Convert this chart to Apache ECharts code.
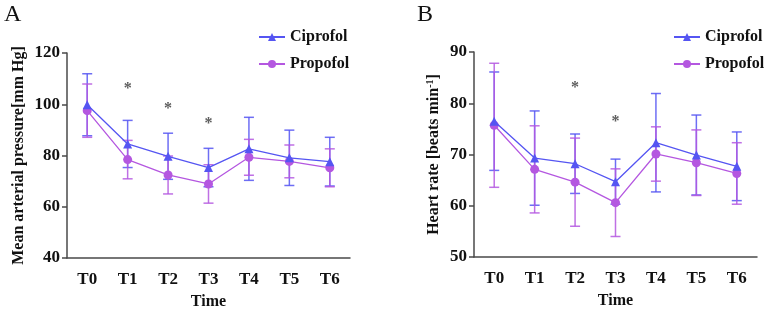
<!DOCTYPE html>
<html>
<head>
<meta charset="utf-8">
<script src="https://cdn.jsdelivr.net/npm/echarts@6/dist/echarts.min.js"></script>
<style>
  html, body { margin: 0; padding: 0; background: #fff; }
  #chart { width: 767px; height: 310px; }
</style>
</head>
<body>
<div id="chart"></div>
<script>
// time points
const times = ['T0', 'T1', 'T2', 'T3', 'T4', 'T5', 'T6'];

// A: mean arterial pressure (mean, sd)
const mapCipMean = [99.8, 84.5, 79.7, 75.3, 82.6, 79.1, 77.6];
const mapCipSd = [12.1, 9.2, 9.0, 7.5, 12.3, 10.8, 9.5];
const mapProMean = [97.5, 78.4, 72.4, 68.9, 79.3, 77.7, 75.2];
const mapProSd = [10.4, 7.5, 7.4, 7.5, 7.0, 6.4, 7.4];
const mapStars = [null, 107.2, 99.2, 93.6, null, null, null];

// B: heart rate (mean, sd)
const hrCipMean = [76.5, 69.3, 68.2, 64.7, 72.3, 69.9, 67.7];
const hrCipSd = [9.6, 9.2, 5.8, 4.4, 9.6, 7.8, 6.7];
const hrProMean = [75.7, 67.1, 64.6, 60.6, 70.1, 68.4, 66.3];
const hrProSd = [12.1, 8.5, 8.6, 6.6, 5.3, 6.4, 6.0];
const hrStars = [null, null, 83.6, 76.9, null, null, null];

const FONT = '"Liberation Serif", "Times New Roman", serif';
const CIP = '#5555f2';
const PRO = '#b457e0';
const AXIS = '#4a4a4a';

function errData(mean, sd) {
  return mean.map((m, i) => [i, +(m - sd[i]).toFixed(2), +(m + sd[i]).toFixed(2)]);
}

function errorBar(color) {
  return function (params, api) {
    const x = api.value(0);
    const lo = api.coord([x, api.value(1)]);
    const hi = api.coord([x, api.value(2)]);
    const w = 5;
    const st = { stroke: color, lineWidth: 1.5, opacity: 0.85 };
    return {
      type: 'group',
      children: [
        { type: 'line', shape: { x1: hi[0], y1: hi[1], x2: lo[0], y2: lo[1] }, style: st },
        { type: 'line', shape: { x1: hi[0] - w, y1: hi[1], x2: hi[0] + w, y2: hi[1] }, style: st },
        { type: 'line', shape: { x1: lo[0] - w, y1: lo[1], x2: lo[0] + w, y2: lo[1] }, style: st }
      ]
    };
  };
}

function starData(stars) {
  return stars.map((v, i) => (v == null ? null : [i, v])).filter(Boolean);
}

function xAxis(gridIndex) {
  return {
    type: 'category',
    gridIndex: gridIndex,
    data: times,
    name: 'Time',
    nameLocation: 'middle',
    nameGap: 36,
    nameTextStyle: { fontFamily: FONT, fontWeight: 'bold', fontSize: 16, color: '#111' },
    axisLine: { lineStyle: { color: AXIS, width: 1.5 } },
    axisTick: { alignWithLabel: true, length: 5, lineStyle: { color: AXIS, width: 1.5 } },
    axisLabel: { margin: 13, fontFamily: FONT, fontWeight: 'bold', fontSize: 17, color: '#111' }
  };
}

function yAxis(gridIndex, min, max, interval, name, gap) {
  return {
    type: 'value',
    gridIndex: gridIndex,
    min: min,
    max: max,
    interval: interval,
    name: name,
    nameLocation: 'middle',
    nameGap: gap,
    nameTextStyle: {
      fontFamily: FONT, fontWeight: 'bold', fontSize: 16, color: '#111',
      rich: { sup: { fontFamily: FONT, fontWeight: 'bold', fontSize: 10, color: '#111', verticalAlign: 'top', padding: [0, 0, 8, 0] } }
    },
    splitLine: { show: false },
    axisLine: { show: true, lineStyle: { color: AXIS, width: 1.5 } },
    axisTick: { show: true, length: 5, lineStyle: { color: AXIS, width: 1.5 } },
    axisLabel: { margin: 7, fontFamily: FONT, fontWeight: 'bold', fontSize: 17, color: '#111' }
  };
}

function legend(left) {
  return {
    left: left,
    top: 24,
    orient: 'vertical',
    itemGap: 11,
    itemWidth: 26,
    itemHeight: 10,
    data: ['Ciprofol', 'Propofol'],
    textStyle: { fontFamily: FONT, fontWeight: 'bold', fontSize: 16, color: '#111' }
  };
}

function panel(idx, cipMean, cipSd, proMean, proSd, stars) {
  return [
    {
      type: 'custom', name: 'cipErr', xAxisIndex: idx, yAxisIndex: idx,
      renderItem: errorBar(CIP), data: errData(cipMean, cipSd), encode: { x: 0, y: [1, 2] }, z: 2
    },
    {
      type: 'custom', name: 'proErr', xAxisIndex: idx, yAxisIndex: idx,
      renderItem: errorBar(PRO), data: errData(proMean, proSd), encode: { x: 0, y: [1, 2] }, z: 2
    },
    {
      type: 'line', name: 'Propofol', xAxisIndex: idx, yAxisIndex: idx, data: proMean,
      symbol: 'circle', symbolSize: 9, itemStyle: { color: PRO }, lineStyle: { color: PRO, width: 1.3 }, z: 3
    },
    {
      type: 'line', name: 'Ciprofol', xAxisIndex: idx, yAxisIndex: idx, data: cipMean,
      symbol: 'triangle', symbolSize: 9, itemStyle: { color: CIP }, lineStyle: { color: CIP, width: 1.3 }, z: 4
    },
    {
      type: 'scatter', name: 'stars', xAxisIndex: idx, yAxisIndex: idx, data: starData(stars),
      symbolSize: 1, itemStyle: { color: 'transparent' },
      label: { show: true, position: 'inside', offset: [0, 3], formatter: '*', fontFamily: FONT, fontWeight: 'bold', fontSize: 16, color: '#333' },
      silent: true, z: 5
    }
  ];
}

const chart = echarts.init(document.getElementById('chart'), null, { renderer: 'canvas' });
chart.setOption({
  animation: false,
  backgroundColor: '#fff',
  graphic: [
    { type: 'text', left: 4, top: 3, style: { text: 'A', font: '24px ' + FONT, fill: '#111' } },
    { type: 'text', left: 417, top: 3, style: { text: 'B', font: '24px ' + FONT, fill: '#111' } }
  ],
  legend: [legend(253), legend(668)],
  grid: [
    { left: 67, top: 53, width: 283, height: 205, outerBoundsMode: 'none', containLabel: false },
    { left: 474, top: 52, width: 283, height: 205, outerBoundsMode: 'none', containLabel: false }
  ],
  xAxis: [xAxis(0), xAxis(1)],
  yAxis: [
    yAxis(0, 40, 120, 20, 'Mean arterial pressure[mm Hg]', 40),
    yAxis(1, 50, 90, 10, 'Heart rate [beats min{sup|-1}]', 31)
  ],
  series: [].concat(
    panel(0, mapCipMean, mapCipSd, mapProMean, mapProSd, mapStars),
    panel(1, hrCipMean, hrCipSd, hrProMean, hrProSd, hrStars)
  )
});
</script>
</body>
</html>
